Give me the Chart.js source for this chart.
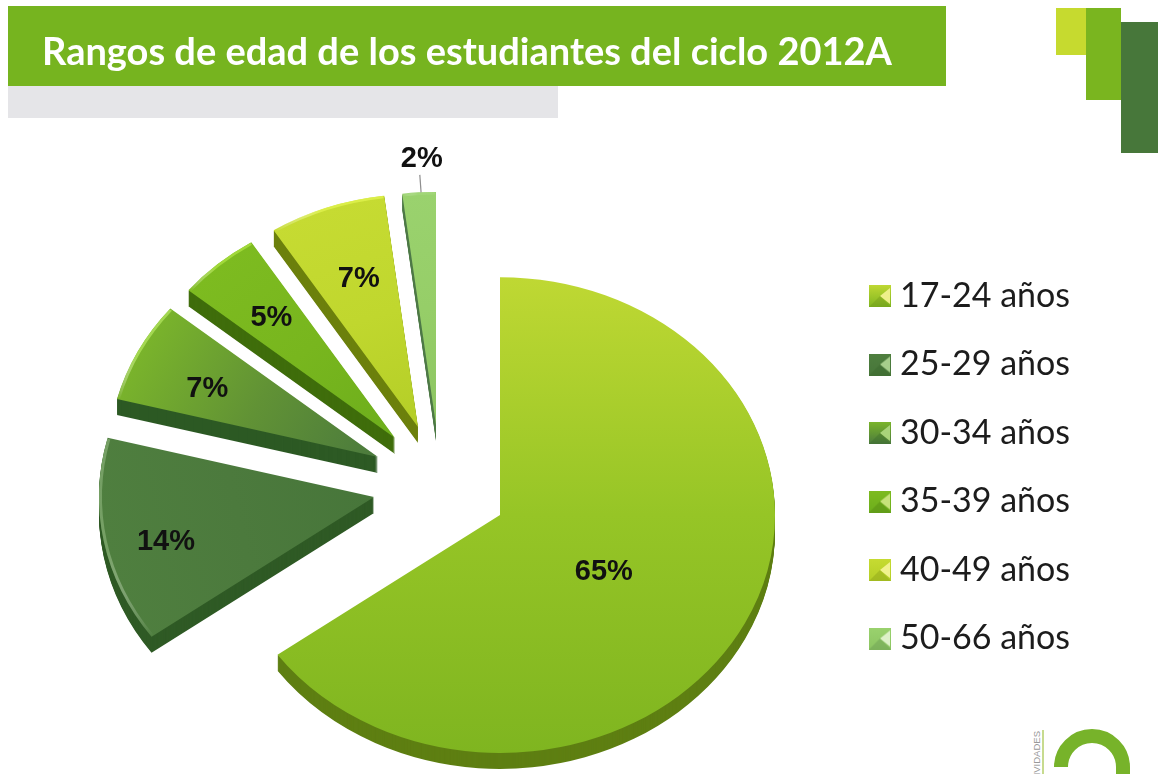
<!DOCTYPE html>
<html lang="es">
<head>
<meta charset="utf-8">
<title>Rangos de edad</title>
<script src="https://cdn.jsdelivr.net/npm/chart.js@4"></script>
<style>
html,body{margin:0;padding:0;background:#fff;width:1158px;height:774px;overflow:hidden}
.d{position:absolute}
canvas{position:absolute;left:0;top:0}
</style>
</head>
<body>
<div class="d" style="left:8px;top:6px;width:938px;height:80px;background:#76B41F"></div>
<div class="d" style="left:8px;top:86px;width:550px;height:32px;background:#E5E5E8"></div>
<div class="d" style="left:1056px;top:8px;width:30px;height:47px;background:#C6DA2F"></div>
<div class="d" style="left:1086px;top:8px;width:35px;height:92px;background:#7AB51F"></div>
<div class="d" style="left:1121px;top:22px;width:37px;height:131px;background:#47773A"></div>
<svg class="d" style="left:0;top:0" width="1158" height="774">
  <path d="M1061 767 A31 31 0 1 1 1123 767 L1123 790" fill="none" stroke="#77B32A" stroke-width="14"/>
  <line x1="1043" y1="730" x2="1043" y2="774" stroke="#B5CF6A" stroke-width="1.5"/>
  <text transform="translate(1040,731) rotate(-90)" text-anchor="end" font-family="Liberation Sans" font-size="9.5" fill="#999">ACTIVIDADES</text>
</svg>
<canvas id="c" width="1158" height="774"></canvas>
<script>
const titleText = "Rangos de edad de los estudiantes del ciclo 2012A";
const categories = ["17-24 años","25-29 años","30-34 años","35-39 años","40-49 años","50-66 años"];
const values = [65,14,7,5,7,2];
const sliceShiftX = [0,-126,-122,-105,-82,-64];
const sliceShiftY = [0,-18,-58,-77,-88,-90];
const sliceScale = [1,1,0.98,0.975,0.98,0.98];
const labelFractions = [0.44,0.77,0.69,0.68,0.66,1.14];
const labelNudgeX = [-4,0,-5,-3,1,5];
const labelNudgeY = [9,11,5,-2,-3,-1];
const faceStart = ["#BFD833","#4F7F3F","#7AB42B","#7DBB20","#C6DB32","#9AD26E"];
const faceMid = ["#96C526","#4C7A3D","#619235","#78B61E","#C0D72E","#96CE68"];
const faceEnd = ["#7FB520","#47763A","#4B7A3D","#6DAE1C","#B4CE27","#8CC562"];
const sideColors = ["#5E7F12","#2F5A25","#2D5A24","#3F6D0B","#6C800C","#4F7A48"];
const rimColors = ["#C8E04A","#7FA86E","#A8DC55","#A5DC3C","#DDF04A","#A8DA80"];
const rimAlpha = [0,0.8,0.9,0.9,0.9,0.5];
const gradAngles = [0,259,297,318,340,356];
const markerLight = ["#EEF08A","#A6CE8C","#A9D47A","#C6E27A","#F1F28E","#DDF1C8"];

const R = 275, SY = 0.865, DEPTH = 16;

function marker(i){
  const cv=document.createElement('canvas');cv.width=22;cv.height=22;
  const g=cv.getContext('2d');
  const lg=g.createLinearGradient(0,0,0,22);
  lg.addColorStop(0,faceStart[i]);lg.addColorStop(1,faceEnd[i]);
  g.fillStyle=lg;g.fillRect(0,0,22,22);
  g.fillStyle=markerLight[i];
  g.beginPath();g.moveTo(21,3);g.lineTo(21,19);g.lineTo(11,11);g.closePath();g.fill();
  g.fillStyle=sideColors[i];g.globalAlpha=0.25;
  g.beginPath();g.moveTo(0,22);g.lineTo(22,22);g.lineTo(11,11);g.closePath();g.fill();
  return cv;
}

const explodedPie = {
  id:'explodedPie',
  afterLayout(chart){
    const l=chart.legend;
    l.left=842.5;l.right=1158;l.top=244.5;l.bottom=774;
  },
  beforeDatasetsDraw(chart){
    const ctx=chart.ctx, arcs=chart.getDatasetMeta(0).data;
    const draw=(arc,fill)=>{
      const o=arc.options;
      arc.options=Object.create(o);
      arc.options.backgroundColor=fill;
      arc.draw(ctx);
      arc.options=o;
    };
    arcs.forEach((arc,i)=>{
      const cx=arc.x, cy=arc.y, s=sliceScale[i];
      const place=(dy)=>{
        ctx.translate(cx+sliceShiftX[i],cy+sliceShiftY[i]+dy);
        ctx.scale(s,SY*s);
        ctx.translate(-cx,-cy);
      };
      for(let d=DEPTH;d>=1;d--){
        ctx.save();place(d);draw(arc,sideColors[i]);ctx.restore();
      }
      ctx.save();place(0);
      const th=gradAngles[i]*Math.PI/180;
      const k=i===0?1:0;
      const g=ctx.createLinearGradient(cx+R*Math.sin(th),cy-R*Math.cos(th),cx-k*R*Math.sin(th),cy+k*R*Math.cos(th));
      g.addColorStop(0,faceStart[i]);g.addColorStop(0.5,faceMid[i]);g.addColorStop(1,faceEnd[i]);
      draw(arc,g);
      if(rimAlpha[i]>0){
        const x0=cx+R*Math.cos(arc.startAngle), y0=cy+R*Math.sin(arc.startAngle);
        const x1=cx+R*Math.cos(arc.endAngle), y1=cy+R*Math.sin(arc.endAngle);
        const rg=ctx.createLinearGradient(x0,y0,x1,y1);
        rg.addColorStop(0,'rgba(255,255,255,0)');
        rg.addColorStop(0.45,rimColors[i]);
        rg.addColorStop(1,rimColors[i]);
        ctx.beginPath();
        ctx.arc(cx,cy,R-1.5,arc.startAngle+0.004,arc.endAngle-0.004);
        ctx.strokeStyle=rg;ctx.globalAlpha=rimAlpha[i];ctx.lineWidth=3;ctx.stroke();
      }
      ctx.restore();
    });
    ctx.save();
    ctx.font='bold 29px "Liberation Sans"';ctx.textAlign='center';ctx.textBaseline='middle';
    arcs.forEach((arc,i)=>{
      const mid=(arc.startAngle+arc.endAngle)/2, f=labelFractions[i], s=sliceScale[i];
      const ox=arc.x+sliceShiftX[i], oy=arc.y+sliceShiftY[i];
      const px=(q)=>ox+R*s*q*Math.cos(mid), py=(q)=>oy+R*s*SY*q*Math.sin(mid);
      if(f>1){
        ctx.strokeStyle='#8E8E8E';ctx.lineWidth=1.2;
        ctx.beginPath();ctx.moveTo(px(1.0)+2,py(1.0));ctx.lineTo(px(1.075)+2,py(1.075));ctx.stroke();
      }
      ctx.fillStyle='#111';
      ctx.fillText(values[i]+'%',px(f)+labelNudgeX[i],py(f)+labelNudgeY[i]);
    });
    ctx.restore();
    return false;
  }
};

new Chart(document.getElementById('c'),{
  type:'pie',
  data:{labels:categories,datasets:[{data:values,backgroundColor:faceMid,borderWidth:0}]},
  options:{
    responsive:false,animation:false,
    radius:R,
    layout:{padding:{left:42,right:200,top:0,bottom:0}},
    plugins:{
      tooltip:{enabled:false},
      title:{display:true,text:titleText,align:'start',color:'#fff',
        font:{family:'Lato',size:38,weight:'bold',lineHeight:1.2},
        padding:{top:30,bottom:180.4}},
      legend:{position:'chartArea',align:'start',
        labels:{usePointStyle:true,boxWidth:6,padding:34.5,color:'#1c1c1c',
          font:{family:'Lato',size:34},
          generateLabels(chart){
            const items=Chart.overrides.doughnut.plugins.legend.labels.generateLabels(chart);
            items.forEach((it,i)=>{it.pointStyle=marker(i);});
            return items;
          }}}
    }
  },
  plugins:[explodedPie]
});
</script>
</body>
</html>
